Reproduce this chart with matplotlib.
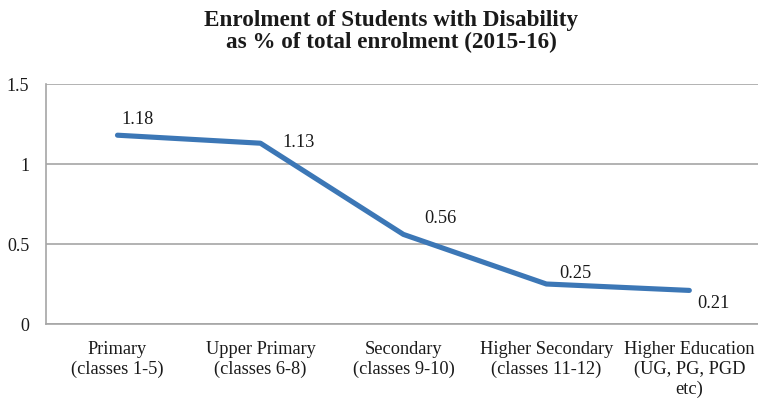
import matplotlib
matplotlib.use("Agg")
import matplotlib.pyplot as plt

categories = [
    "Primary\n(classes 1-5)",
    "Upper Primary\n(classes 6-8)",
    "Secondary\n(classes 9-10)",
    "Higher Secondary\n(classes 11-12)",
    "Higher Education\n(UG, PG, PGD\netc)",
]
values = [1.18, 1.13, 0.56, 0.25, 0.21]
y_ticks = [0, 0.5, 1, 1.5]
y_tick_labels = ["0", "0.5", "1", "1.5"]

# label offsets (points) for each value label
label_offsets = [(14.4, 11.5), (27.4, 0.7), (26.6, 11.5), (20.9, 7.9), (17.3, -9.4)]

plt.rcParams["font.family"] = ["Liberation Serif", "DejaVu Serif"]

fig = plt.figure(figsize=(7.58, 4.01), dpi=100)
ax = fig.add_axes([0.0607, 0.192, 0.943, 0.5985])

x = list(range(len(values)))
line_color = "#3C77B6"
ax.plot(x, values, color=line_color, linewidth=3.7, solid_capstyle="round",
        solid_joinstyle="round", zorder=3)

for xi, v, off in zip(x, values, label_offsets):
    ax.annotate(f"{v:.2f}", (xi, v), xytext=off, textcoords="offset points",
                ha="center", va="center", fontsize=13.2, color="#1a1a1a")

ax.set_xlim(-0.5, len(values) - 0.5)
ax.set_ylim(0, 1.5)
ax.set_yticks(y_ticks)
ax.set_yticklabels(y_tick_labels, fontsize=13, color="#1a1a1a")
ax.set_xticks(x)
ax.set_xticklabels(categories, fontsize=13.2, color="#1a1a1a", linespacing=1.2)
ax.tick_params(axis="both", length=0)
ax.tick_params(axis="x", pad=12)
ax.tick_params(axis="y", pad=12)

ax.grid(axis="y", color="#A6A6A6", linewidth=1.2)
ax.set_axisbelow(True)
for side in ["top", "right"]:
    ax.spines[side].set_visible(False)
ax.spines["left"].set_color("#A6A6A6")
ax.spines["left"].set_linewidth(1.2)
ax.spines["bottom"].set_color("#A6A6A6")
ax.spines["bottom"].set_linewidth(1.2)

fig.text(0.516, 0.921, "Enrolment of Students with Disability\nas % of total enrolment (2015-16)",
         ha="center", va="center", fontsize=16.7, fontweight="bold", color="#1a1a1a",
         linespacing=1.08)

fig.savefig("out.png", dpi=100)
